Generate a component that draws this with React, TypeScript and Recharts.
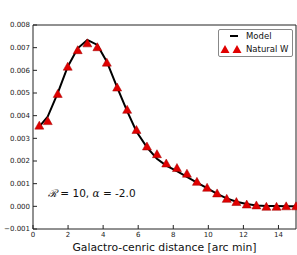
import { ComposedChart, Line, Scatter, XAxis, YAxis } from 'recharts';

// radial profile: model curve vs simulated points
const distance = [0.36, 0.84, 1.41, 1.98, 2.55, 3.1, 3.67, 4.21, 4.8, 5.37, 5.9, 6.5, 7.07, 7.6, 8.21, 8.78, 9.35, 9.93, 10.5, 11.05, 11.6, 12.19, 12.74, 13.31, 13.89, 14.44, 15.0];
const model = [0.00352, 0.00396, 0.00499, 0.00616, 0.00697, 0.00734, 0.00712, 0.00638, 0.00525, 0.0042, 0.0033, 0.0026, 0.0021, 0.0018, 0.00155, 0.0013, 0.00105, 0.0008, 0.00055, 0.00035, 0.0002, 0.0001, 0.00004, 0.00002, 0.00001, 0.0, 0.0];
const natural = [0.00356, 0.00376, 0.00496, 0.00616, 0.00689, 0.00719, 0.00702, 0.00634, 0.00524, 0.00426, 0.00337, 0.00264, 0.0023, 0.00189, 0.00169, 0.00144, 0.00108, 0.00082, 0.00057, 0.00033, 0.00019, 0.00008, 0.00004, -0.00002, -0.00002, 0.0, 0.0];
const xTicks = [0, 2, 4, 6, 8, 10, 12, 14];
const yTicks = [-0.001, 0, 0.001, 0.002, 0.003, 0.004, 0.005, 0.006, 0.007, 0.008];

const data = distance.map((x, i) => ({ x, model: model[i], natural: natural[i] }));

const font = 'DejaVu Sans';
const tickStyle = { fontSize: 7, fill: '#222', fontFamily: font };
const axisLine = { stroke: '#222', strokeWidth: 1 };

const fmtY = (v: number) => (v < 0 ? '\u2212' + Math.abs(v).toFixed(3) : v.toFixed(3));

const Triangle = (props: any) => {
  const { cx, cy } = props;
  if (cx == null || cy == null) return null;
  return <polygon points={`${cx},${cy - 4.5} ${cx + 4.5},${cy + 3.5} ${cx - 4.5},${cy + 3.5}`} fill="#e00000" stroke="#a00000" strokeWidth={0.5} />;
};

const App = () => {
  return (
    <div style={{ position: 'absolute', left: 0, top: 0, width: 297, height: 255, background: '#fff' }}>
      <ComposedChart width={297} height={255} data={data} margin={{ top: 24, right: 0, bottom: 0, left: 0 }}>
        <XAxis
          xAxisId="b"
          dataKey="x"
          type="number"
          domain={[0, 15]}
          ticks={xTicks}
          height={26}
          tickSize={-4}
          tickMargin={7}
          tick={tickStyle}
          axisLine={axisLine}
          tickLine={axisLine}
          label={{ value: 'Galactro-cenric distance [arc min]', position: 'insideBottom', offset: 4, style: { fontSize: 10.8, fill: '#111', fontFamily: font } }}
        />
        <XAxis
          xAxisId="t"
          orientation="top"
          dataKey="x"
          type="number"
          domain={[0, 15]}
          ticks={xTicks}
          height={1}
          tickSize={-4}
          tick={false}
          axisLine={axisLine}
          tickLine={axisLine}
        />
        <YAxis
          yAxisId="l"
          type="number"
          domain={[-0.001, 0.008]}
          ticks={yTicks}
          width={33}
          tickSize={-4}
          tickMargin={7}
          tick={tickStyle}
          tickFormatter={fmtY}
          axisLine={axisLine}
          tickLine={axisLine}
        />
        <YAxis
          yAxisId="r"
          orientation="right"
          type="number"
          domain={[-0.001, 0.008]}
          ticks={yTicks}
          width={1}
          tickSize={-4}
          tick={false}
          axisLine={axisLine}
          tickLine={axisLine}
        />
        <Line xAxisId="b" yAxisId="l" dataKey="model" type="linear" stroke="#000" strokeWidth={2} dot={false} isAnimationActive={false} />
        <Scatter xAxisId="b" yAxisId="l" dataKey="natural" shape={<Triangle />} isAnimationActive={false} />
      </ComposedChart>
      <div style={{ position: 'absolute', left: 218, top: 29, width: 75, height: 28, border: '1px solid #888', borderRadius: 2, background: '#fff', fontFamily: font, fontSize: 8.5, lineHeight: '10px', color: '#111', boxSizing: 'border-box' }}>
        <div style={{ position: 'absolute', left: 11, top: 5, width: 8, height: 2, background: '#000' }} />
        <div style={{ position: 'absolute', left: 27, top: 1 }}>Model</div>
        <svg style={{ position: 'absolute', left: 1, top: 14 }} width={22} height={10}>
          <polygon points="5,1 9.5,9 0.5,9" fill="#e00000" />
          <polygon points="17,1 21.5,9 12.5,9" fill="#e00000" />
        </svg>
        <div style={{ position: 'absolute', left: 27, top: 14 }}>Natural W</div>
      </div>
      <div style={{ position: 'absolute', left: 48, top: 186, fontFamily: font, fontSize: 10.5, color: '#111', whiteSpace: 'nowrap' }}>
        <span style={{ fontFamily: 'DejaVu Serif', fontStyle: 'italic' }}>ℛ</span> = 10, <span style={{ fontFamily: 'DejaVu Serif', fontStyle: 'italic' }}>α</span> = -2.0
      </div>
    </div>
  );
};

export default App;
